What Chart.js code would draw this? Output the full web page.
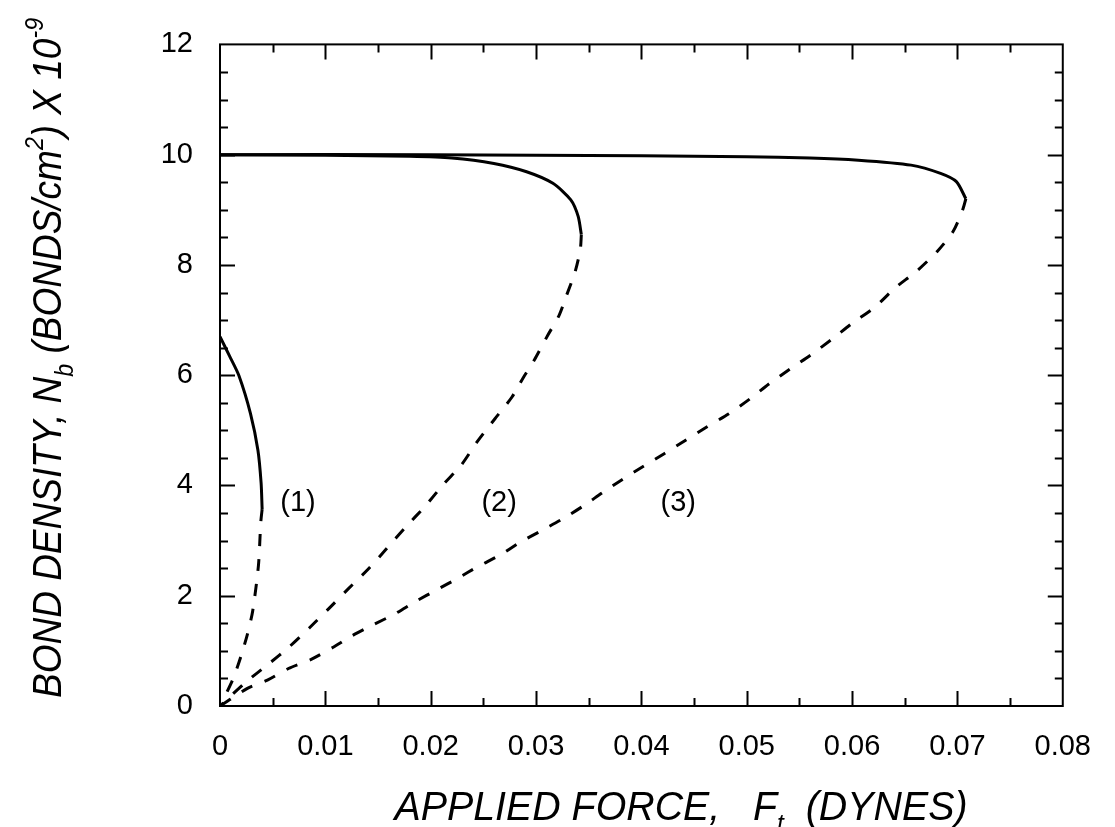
<!DOCTYPE html>
<html>
<head>
<meta charset="utf-8">
<script src="https://cdn.jsdelivr.net/npm/chart.js@4.4.1/dist/chart.umd.min.js"></script>
<style>
html,body{margin:0;padding:0;background:#ffffff;}
#wrap{position:relative;width:1115px;height:827px;}
</style>
</head>
<body>
<div id="wrap"><canvas id="c" width="1115" height="827"></canvas></div>
<script>
// ---------- tick labels ----------
const xTickLabels = ['0', '0.01', '0.02', '0.03', '0.04', '0.05', '0.06', '0.07', '0.08'];
const yTickLabels = ['0', '2', '4', '6', '8', '10', '12'];

// ---------- curve (1) ----------
const c1SolidX = [0, 0.0009, 0.0018, 0.0029, 0.0036, 0.0039, 0.0040];
const c1SolidY = [6.70, 6.35, 5.99, 5.30, 4.64, 4.05, 3.57];
const c1DashX  = [0.0040, 0.00387, 0.00365, 0.0031, 0.0026, 0.0020, 0.0013, 0.0006, 0];
const c1DashY  = [3.57, 3.33, 2.55, 1.72, 1.30, 0.91, 0.52, 0.23, 0];

// ---------- curve (2) ----------
const c2SolidX = [0, 0.010, 0.018, 0.022, 0.0260, 0.0291, 0.0316, 0.0333, 0.0340, 0.0343];
const c2SolidY = [10.0, 9.99, 9.97, 9.94, 9.84, 9.69, 9.48, 9.18, 8.88, 8.55];
const c2DashX  = [0.0343, 0.0342, 0.0337, 0.0329, 0.0322, 0.0311, 0.02985, 0.0288, 0.0277, 0.0261, 0.0244, 0.0229, 0.0212, 0.0195, 0.0176, 0.0158, 0.0141, 0.0121, 0.0104, 0.0085, 0.0065, 0.0046, 0.0025, 0];
const c2DashY  = [8.55, 8.28, 7.87, 7.45, 7.09, 6.72, 6.28, 5.96, 5.60, 5.21, 4.79, 4.37, 4.02, 3.63, 3.24, 2.85, 2.49, 2.11, 1.78, 1.42, 1.06, 0.76, 0.44, 0];

// ---------- curve (3) ----------
const c3SolidX = [0, 0.020, 0.040, 0.050, 0.0560, 0.0606, 0.0656, 0.0684, 0.0699, 0.0708];
const c3SolidY = [10.0, 10.0, 9.98, 9.96, 9.94, 9.90, 9.81, 9.66, 9.51, 9.20];
const c3DashX  = [0.0708, 0.0705, 0.0696, 0.0681, 0.0662, 0.0640, 0.0622, 0.0600, 0.0582, 0.0561, 0.0541, 0.0521, 0.0503, 0.0483, 0.0462, 0.0442, 0.0422, 0.0402, 0.0382, 0.0363, 0.0345, 0.0325, 0.0305, 0.0285, 0.0265, 0.0244, 0.0226, 0.0206, 0.0186, 0.0165, 0.0146, 0.0125, 0.0107, 0.0087, 0.0065, 0.0045, 0.0026, 0];
const c3DashY  = [9.20, 9.00, 8.61, 8.25, 7.90, 7.57, 7.24, 6.94, 6.67, 6.37, 6.11, 5.84, 5.57, 5.30, 5.06, 4.82, 4.58, 4.35, 4.11, 3.87, 3.63, 3.39, 3.18, 2.97, 2.73, 2.52, 2.32, 2.11, 1.90, 1.66, 1.48, 1.27, 1.06, 0.85, 0.68, 0.47, 0.32, 0];

// ---------- curve labels ----------
const curveLabels  = ['(1)', '(2)', '(3)'];
const curveLabelX  = [0.0074, 0.0265, 0.0435];
const curveLabelY  = [3.68, 3.68, 3.68];

// ---------- axis titles ----------
const xTitleParts = [
  {t: 'APPLIED FORCE,   F'}, {t: 't', sub: true}, {t: '  (DYNES)'}
];
const yTitleParts = [
  {t: 'BOND DENSITY, N'}, {t: 'b', sub: true}, {t: ' (BONDS/cm'}, {t: '2', sup: true},
  {t: ') X 10'}, {t: '-9', sup: true}
];

function pts(xs, ys) { return xs.map((x, i) => ({x: x, y: ys[i]})); }

const FONT = '"Liberation Sans", Arial, Helvetica, sans-serif';

function lineDS(label, xs, ys, dashed) {
  return {
    label: label,
    data: pts(xs, ys),
    showLine: true,
    borderColor: '#000',
    backgroundColor: '#000',
    borderWidth: 3,
    borderDash: dashed ? [12, 13] : [],
    pointRadius: 0,
    tension: 0.25,
    fill: false
  };
}

function drawRich(ctx, parts, size, targetW) {
  const base = 'italic ' + size + 'px ' + FONT;
  const small = 'italic ' + Math.round(size * 0.62) + 'px ' + FONT;
  let total = 0;
  const ws = parts.map(p => {
    ctx.font = (p.sub || p.sup) ? small : base;
    const w = ctx.measureText(p.t).width;
    total += w;
    return w;
  });
  const sx = targetW / total;
  ctx.scale(sx, 1);
  const capH = size * 0.716;
  let x = -total / 2;
  ctx.textAlign = 'left';
  ctx.textBaseline = 'alphabetic';
  parts.forEach((p, i) => {
    ctx.font = (p.sub || p.sup) ? small : base;
    let dy = 0;
    if (p.sub) dy = size * 0.30;
    if (p.sup) dy = -size * 0.45;
    ctx.fillText(p.t, x, capH / 2 + dy);
    x += ws[i];
  });
}

const framePlugin = {
  id: 'framePlugin',
  afterDraw(chart) {
    const ctx = chart.ctx;
    const a = chart.chartArea;
    const xs = chart.scales.x, ys = chart.scales.y;
    ctx.save();
    ctx.strokeStyle = '#000';
    ctx.lineWidth = 2;
    ctx.setLineDash([]);
    ctx.strokeRect(a.left, a.top, a.right - a.left, a.bottom - a.top);
    const majL = 15, minL = 8;
    ctx.beginPath();
    // x ticks (minor every 0.005, major every 0.01)
    for (let k = 1; k < 16; k++) {
      const v = k * 0.005;
      const px = Math.round(xs.getPixelForValue(v)) + 0.5;
      const L = (k % 2 === 0) ? majL : minL;
      ctx.moveTo(px, a.bottom); ctx.lineTo(px, a.bottom - L);
      ctx.moveTo(px, a.top); ctx.lineTo(px, a.top + L);
    }
    // y ticks (minor every 0.5, major every 2)
    for (let k = 1; k < 24; k++) {
      const v = k * 0.5;
      const py = Math.round(ys.getPixelForValue(v)) + 0.5;
      const L = (k % 4 === 0) ? majL : minL;
      ctx.moveTo(a.left, py); ctx.lineTo(a.left + L, py);
      ctx.moveTo(a.right, py); ctx.lineTo(a.right - L, py);
    }
    ctx.stroke();

    // curve labels
    ctx.fillStyle = '#000';
    ctx.font = '29px ' + FONT;
    ctx.textAlign = 'center';
    ctx.textBaseline = 'middle';
    curveLabels.forEach((t, i) => {
      ctx.fillText(t, xs.getPixelForValue(curveLabelX[i]), ys.getPixelForValue(curveLabelY[i]));
    });

    // x axis title
    ctx.save();
    ctx.translate(681, 806);
    drawRich(ctx, xTitleParts, 40, 573);
    ctx.restore();

    // y axis title
    ctx.save();
    ctx.translate(47, 358);
    ctx.rotate(-Math.PI / 2);
    drawRich(ctx, yTitleParts, 40, 680);
    ctx.restore();

    ctx.restore();
  }
};

new Chart(document.getElementById('c'), {
  type: 'scatter',
  data: {
    datasets: [
      lineDS('(1) stable', c1SolidX, c1SolidY, false),
      lineDS('(1) unstable', c1DashX, c1DashY, true),
      lineDS('(2) stable', c2SolidX, c2SolidY, false),
      lineDS('(2) unstable', c2DashX, c2DashY, true),
      lineDS('(3) stable', c3SolidX, c3SolidY, false),
      lineDS('(3) unstable', c3DashX, c3DashY, true)
    ]
  },
  options: {
    responsive: false,
    animation: false,
    devicePixelRatio: 1,
    layout: { padding: { left: 0, top: 36, right: 33, bottom: 0 } },
    plugins: { legend: { display: false }, tooltip: { enabled: false }, title: { display: false } },
    scales: {
      x: {
        type: 'linear', position: 'bottom', min: 0, max: 0.08,
        afterFit: s => { s.height = 121; },
        grid: { display: false, drawTicks: false },
        border: { display: false },
        ticks: {
          stepSize: 0.01, padding: 24, color: '#000',
          font: { family: FONT, size: 29 },
          maxRotation: 0, autoSkip: false,
          callback: (v, i) => xTickLabels[i]
        }
      },
      y: {
        type: 'linear', position: 'left', min: 0, max: 12,
        afterFit: s => { s.width = 220; },
        grid: { display: false, drawTicks: false },
        border: { display: false },
        ticks: {
          stepSize: 2, padding: 27, color: '#000',
          font: { family: FONT, size: 29 },
          callback: (v, i) => yTickLabels[i]
        }
      }
    }
  },
  plugins: [framePlugin]
});
</script>
</body>
</html>
